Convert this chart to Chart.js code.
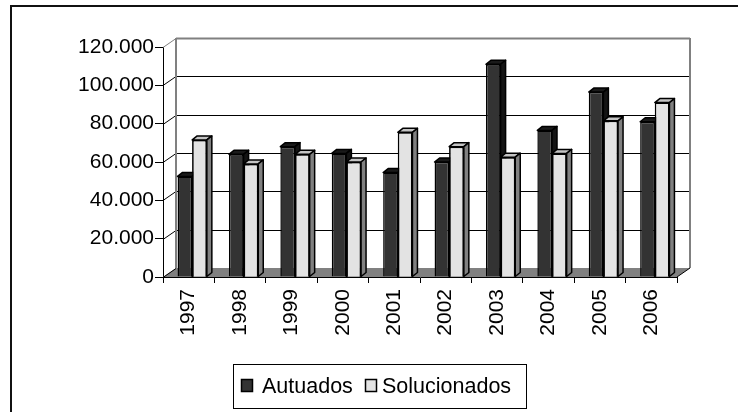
<!DOCTYPE html>
<html><head><meta charset="utf-8">
<script src="https://cdn.jsdelivr.net/npm/chart.js@4"></script>
<style>
html,body{margin:0;padding:0;background:#fff;}
#wrap{position:relative;width:738px;height:412px;overflow:hidden;background:#fff;}
#frame{position:absolute;left:10px;top:5px;width:900px;height:600px;border:2px solid #111;box-sizing:border-box;}
canvas{position:absolute;left:0;top:0;}
</style></head><body>
<div id="wrap"><div id="frame"></div><canvas id="c" width="738" height="412"></canvas></div>
<script>
const categories = ['1997','1998','1999','2000','2001','2002','2003','2004','2005','2006'];
const autuados = [52500, 64000, 68000, 64500, 54500, 60000, 111000, 76500, 96500, 81000];
const solucionados = [71500, 59000, 64000, 60000, 75500, 68000, 62500, 64500, 81500, 91000];
const seriesNames = ['Autuados', 'Solucionados'];
const yTicks = [0, 20000, 40000, 60000, 80000, 100000, 120000];
const yTickLabels = ['0', '20.000', '40.000', '60.000', '80.000', '100.000', '120.000'];

const FONT = '"Liberation Sans", Arial, sans-serif';
const DX = 13, DY = 9;     // wall depth
const BDX = 5, BDY = 4;    // bar depth
const SHIFT = 3.5;

function drawFaces(ctx, bar, ds) {
  const {x, y: top, width, base} = bar.getProps(['x', 'y', 'width', 'base'], true);
  const l = x - width / 2, r = x + width / 2, b = base;
  ctx.lineWidth = 1.5;
  ctx.strokeStyle = '#000';
  ctx.lineJoin = 'round';
  ctx.beginPath();
  ctx.moveTo(l, top); ctx.lineTo(l + BDX, top - BDY); ctx.lineTo(r + BDX, top - BDY); ctx.lineTo(r, top);
  ctx.closePath(); ctx.fillStyle = ds.topColor; ctx.fill(); ctx.stroke();
  ctx.beginPath();
  ctx.moveTo(r, top); ctx.lineTo(r + BDX, top - BDY); ctx.lineTo(r + BDX, b - BDY); ctx.lineTo(r, b);
  ctx.closePath(); ctx.fillStyle = ds.sideColor; ctx.fill(); ctx.stroke();
}

const threeD = {
  id: 'threeD',
  beforeDatasetsDraw(chart) {
    const {ctx, chartArea: a, scales: {y}} = chart;
    const y0 = y.getPixelForValue(0);
    const yTop = y.getPixelForValue(yTicks[yTicks.length - 1]);
    ctx.save();
    ctx.fillStyle = '#808080';
    ctx.beginPath();
    ctx.moveTo(a.left, y0); ctx.lineTo(a.left + DX, y0 - DY);
    ctx.lineTo(a.right + DX, y0 - DY); ctx.lineTo(a.right, y0);
    ctx.closePath(); ctx.fill();
    yTicks.forEach((v, i) => {
      const py = Math.round(y.getPixelForValue(v)) - DY + 0.5;
      const isTop = i === yTicks.length - 1;
      ctx.strokeStyle = isTop ? '#808080' : '#000';
      ctx.lineWidth = isTop ? 2 : 1;
      if (v !== 0) {
        ctx.beginPath(); ctx.moveTo(a.left + DX, py); ctx.lineTo(a.right + DX, py); ctx.stroke();
      }
      ctx.lineWidth = 1;
      ctx.beginPath(); ctx.moveTo(a.left, py + DY); ctx.lineTo(a.left + DX, py); ctx.stroke();
    });
    ctx.strokeStyle = '#808080';
    ctx.lineWidth = 2;
    ctx.beginPath(); ctx.moveTo(a.left + DX, yTop - DY); ctx.lineTo(a.left + DX, y0 - DY); ctx.stroke();
    ctx.beginPath(); ctx.moveTo(a.right + DX, yTop - DY); ctx.lineTo(a.right + DX, y0 - DY); ctx.stroke();
    ctx.lineWidth = 1;
    ctx.strokeStyle = '#000';
    ctx.beginPath(); ctx.moveTo(a.right, y0); ctx.lineTo(a.right + DX, y0 - DY); ctx.stroke();
    ctx.translate(SHIFT, 0);
  },
  afterDatasetsDraw(chart) {
    const ctx = chart.ctx;
    const m0 = chart.getDatasetMeta(0), m1 = chart.getDatasetMeta(1);
    const d0 = chart.data.datasets[0], d1 = chart.data.datasets[1];
    m0.data.forEach(bar => drawFaces(ctx, bar, d0));
    m1.data.forEach(bar => { bar.draw(ctx); drawFaces(ctx, bar, d1); });
    ctx.restore();
  }
};

const boxLegend = {
  id: 'boxLegend',
  afterDraw(chart) {
    const ctx = chart.ctx;
    const L = {left: 233, top: 364, w: 293, h: 44};
    ctx.save();
    ctx.strokeStyle = '#000'; ctx.lineWidth = 1;
    ctx.strokeRect(L.left + 0.5, L.top + 0.5, L.w, L.h);
    const cy = L.top + L.h / 2;
    const sqX = [L.left + 8, L.left + 132];
    const txX = [L.left + 29, L.left + 149];
    ctx.font = '21.5px ' + FONT;
    ctx.textBaseline = 'middle';
    ctx.textAlign = 'left';
    chart.data.datasets.forEach((ds, i) => {
      ctx.fillStyle = ds.backgroundColor;
      ctx.fillRect(sqX[i], cy - 7, 12, 13);
      ctx.lineWidth = 1.5;
      ctx.strokeStyle = '#000';
      ctx.strokeRect(sqX[i] + 0.5, cy - 6.5, 11, 12);
      ctx.fillStyle = '#000';
      ctx.fillText(ds.label, txX[i], cy + 1);
    });
    ctx.restore();
  }
};

new Chart(document.getElementById('c'), {
  type: 'bar',
  data: {
    labels: categories,
    datasets: [
      {label: seriesNames[0], data: autuados, backgroundColor: '#333333', borderColor: '#000', borderWidth: 1.5,
       topColor: '#1a1a1a', sideColor: '#141414', clip: false},
      {label: seriesNames[1], data: solucionados, backgroundColor: '#e3e3e3', borderColor: '#000', borderWidth: 1.5,
       topColor: '#c4c4c4', sideColor: '#808080', clip: false}
    ]
  },
  options: {
    responsive: false,
    devicePixelRatio: 1,
    animation: false,
    categoryPercentage: 0.57,
    barPercentage: 1,
    layout: {padding: {top: 47, right: 61, left: 0, bottom: 0}},
    plugins: {legend: {display: false}, tooltip: {enabled: false}},
    scales: {
      x: {
        grid: {drawOnChartArea: false, drawTicks: true, tickLength: 6, color: '#000', offset: true},
        border: {color: '#000', width: 1},
        ticks: {minRotation: 90, maxRotation: 90, padding: 6, color: '#000', font: {family: FONT, size: 21}},
        afterFit(s) { s.height = 135; }
      },
      y: {
        min: 0, max: 120000,
        afterBuildTicks(s) { s.ticks = yTicks.map(v => ({value: v})); },
        grid: {drawOnChartArea: false, drawTicks: true, tickLength: 8, color: '#000'},
        border: {color: '#000', width: 1},
        ticks: {padding: 1, color: '#000', font: {family: FONT, size: 21},
          callback: (v) => yTickLabels[yTicks.indexOf(v)]},
        afterFit(s) { s.width = 163; }
      }
    }
  },
  plugins: [threeD, boxLegend]
});
</script>
</body></html>
